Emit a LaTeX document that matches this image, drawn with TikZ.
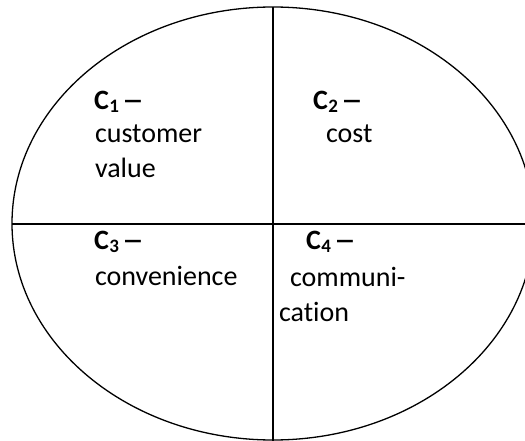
\documentclass[tikz,border=0pt]{standalone}
\usepackage{fontspec}
\setmainfont[Ligatures={NoCommon,NoContextual}]{Carlito}
\newcommand{\cdash}{\scalebox{1.6}[1]{\textendash}}
\newcommand{\clabel}[1]{\textbf{C\kern0.5pt\raisebox{-3pt}{\fontsize{19}{19}\selectfont #1}\kern3pt\cdash}}
\begin{document}
\begin{tikzpicture}[x=1pt,y=-1pt,
  edge/.style={line width=1.3pt,black},
  lbl/.style={anchor=base west,inner sep=0pt,outer sep=0pt,font=\fontsize{28}{35}\selectfont}]
\useasboundingbox (0,0) rectangle (525,441);
\clip (0,0) rectangle (525,441);
\fill[white] (0,0) rectangle (525,441);
\coordinate (ctr) at (273,223.5);
\coordinate (top) at (273,7);
\coordinate (bot) at (273,441);
\coordinate (lft) at (12,224);
\coordinate (rgt) at (525,224);
\draw[edge] (ctr) ellipse [x radius=261, y radius=216.5];
\draw[edge] (top) -- (bot);
\draw[edge] (lft) -- (rgt);
\node[lbl] (c1) at (94,110) {\clabel{1}};
\node[lbl] (c1a) at (95,143) {customer};
\node[lbl] (c1b) at (95,178) {value};
\node[lbl] (c2) at (313,110) {\clabel{2}};
\node[lbl] (c2a) at (326,143) {cost};
\node[lbl] (c3) at (94,249) {\clabel{3}};
\node[lbl] (c3a) at (95,285) {convenience};
\node[lbl] (c4) at (306,249) {\clabel{4}};
\node[lbl] (c4a) at (290,286) {communi-};
\node[lbl] (c4b) at (279,321) {cation};
\end{tikzpicture}
\end{document}
